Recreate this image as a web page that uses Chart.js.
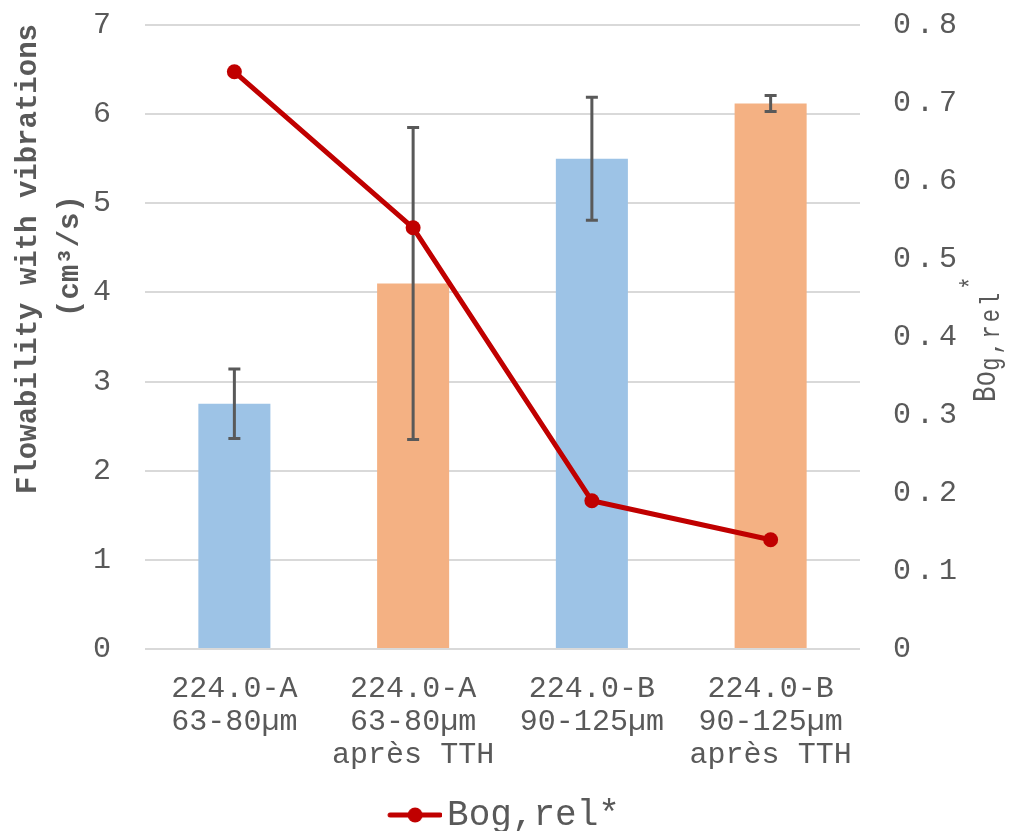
<!DOCTYPE html>
<html>
<head>
<meta charset="utf-8">
<title>Flowability with vibrations</title>
<script src="https://cdn.jsdelivr.net/npm/chart.js"></script>
<style>
  body { margin: 0; background: #fff; }
  #wrap { width: 1009px; height: 831px; position: relative; }
</style>
</head>
<body>
<div id="wrap"><canvas id="chart"></canvas></div>
<script>
var categories = [
    ['224.0-A', '63-80µm'],
    ['224.0-A', '63-80µm', 'après TTH'],
    ['224.0-B', '90-125µm'],
    ['224.0-B', '90-125µm', 'après TTH']
];
var flowability = [2.75, 4.1, 5.5, 6.12];
var flowabilityErr = [0.39, 1.75, 0.69, 0.09];
var bogRel = [0.74, 0.54, 0.19, 0.14];
var barColors = ['#9DC3E6', '#F4B183', '#9DC3E6', '#F4B183'];

var FONT = "'Liberation Mono', 'Courier New', monospace";
var GREY = '#595959';
var RED = '#C00000';
var NONE = 'rgba(0,0,0,0)';

// legend icon: line with a dot, shifted right so it sits close to the text
var legendIcon = document.createElement('canvas');
legendIcon.width = 66;
legendIcon.height = 18;
(function() {
    var c = legendIcon.getContext('2d');
    c.strokeStyle = RED;
    c.lineWidth = 5;
    c.lineCap = 'round';
    c.beginPath();
    c.moveTo(14, 9);
    c.lineTo(64, 9);
    c.stroke();
    c.fillStyle = RED;
    c.beginPath();
    c.arc(39, 9, 7.5, 0, Math.PI * 2);
    c.fill();
})();

var errorBars = {
    id: 'errorBars',
    afterDatasetDraw: function(chart, args) {
        if (args.meta.type !== 'bar') return;
        var ctx = chart.ctx, y = chart.scales.y;
        ctx.save();
        ctx.strokeStyle = GREY;
        ctx.lineWidth = 3;
        args.meta.data.forEach(function(bar, i) {
            var top = y.getPixelForValue(flowability[i] + flowabilityErr[i]);
            var bot = y.getPixelForValue(flowability[i] - flowabilityErr[i]);
            ctx.beginPath();
            ctx.moveTo(bar.x, top); ctx.lineTo(bar.x, bot);
            ctx.moveTo(bar.x - 6, top); ctx.lineTo(bar.x + 6, top);
            ctx.moveTo(bar.x - 6, bot); ctx.lineTo(bar.x + 6, bot);
            ctx.stroke();
        });
        ctx.restore();
    }
};

// right tick labels are drawn letter-spaced in the original
var spacedRightTicks = {
    id: 'spacedRightTicks',
    afterLayout: function(chart) {
        var s = chart.scales.y1;
        if (!s || s._spaced) return;
        var draw = s.drawLabels;
        s.drawLabels = function(area) {
            var ctx = this.ctx;
            ctx.save();
            ctx.letterSpacing = '5px';
            draw.call(this, area);
            ctx.restore();
        };
        s._spaced = true;
    }
};

var axisTitles = {
    id: 'axisTitles',
    afterDraw: function(chart) {
        var ctx = chart.ctx;
        ctx.save();
        ctx.fillStyle = GREY;
        ctx.textAlign = 'center';
        ctx.textBaseline = 'alphabetic';

        // left title, two lines
        ctx.font = 'bold 29px ' + FONT;
        ctx.save();
        ctx.translate(36, 259);
        ctx.rotate(-Math.PI / 2);
        ctx.fillText('Flowability with vibrations', 0, 0);
        ctx.restore();
        ctx.save();
        ctx.translate(78, 256);
        ctx.rotate(-Math.PI / 2);
        ctx.fillText('(cm³/s)', 0, 0);
        ctx.restore();

        // right title Bo_{g,rel}*, read bottom to top starting at y=402,
        // glyphs a bit taller than wide like in the original
        ctx.textAlign = 'left';
        ctx.translate(995, 402);
        ctx.rotate(-Math.PI / 2);
        ctx.scale(1, 1.25);
        ctx.font = '26px ' + FONT;
        ctx.fillText('Bo', 0, 0);
        var x = ctx.measureText('Bo').width;
        ctx.font = '22px ' + FONT;
        ctx.letterSpacing = '3px';
        ctx.fillText('g,rel', x, 3);
        x += ctx.measureText('g,rel').width;
        ctx.letterSpacing = '0px';
        ctx.fillText('*', x, -13);
        ctx.restore();
    }
};

var ctx = document.getElementById('chart').getContext('2d');
var chart = new Chart(ctx, {
    data: {
        labels: categories,
        datasets: [{
            type: 'bar',
            label: 'Flowability',
            data: flowability,
            backgroundColor: barColors,
            barPercentage: 0.403,
            categoryPercentage: 1.0,
            yAxisID: 'y',
            order: 1
        }, {
            type: 'line',
            label: 'Bog,rel*',
            data: bogRel,
            borderColor: RED,
            backgroundColor: RED,
            borderWidth: 5,
            pointRadius: 7.5,
            pointBorderWidth: 0,
            pointBackgroundColor: RED,
            yAxisID: 'y1',
            order: 0
        }]
    },
    options: {
        responsive: true,
        maintainAspectRatio: false,
        animation: false,
        layout: { padding: { top: 25, left: 0, right: 0, bottom: -12 } },
        plugins: {
            tooltip: { enabled: false },
            legend: {
                position: 'bottom',
                labels: {
                    usePointStyle: true,
                    pointStyleWidth: 40,
                    boxHeight: 18,
                    padding: 2,
                    color: GREY,
                    font: { family: FONT, size: 36 },
                    generateLabels: function(chart) {
                        var items = Chart.defaults.plugins.legend.labels.generateLabels(chart);
                        return items.filter(function(it) { return it.datasetIndex === 1; })
                            .map(function(it) { it.pointStyle = legendIcon; return it; });
                    }
                }
            }
        },
        scales: {
            x: {
                grid: { display: false, drawTicks: false },
                border: { display: false },
                ticks: {
                    color: GREY,
                    font: { family: FONT, size: 30, lineHeight: 1.1 },
                    padding: 24,
                    maxRotation: 0,
                    autoSkip: false
                },
                afterFit: function(s) { s.height = 146; }
            },
            y: {
                position: 'left',
                min: 0,
                max: 7,
                ticks: {
                    stepSize: 1,
                    color: GREY,
                    font: { family: FONT, size: 30 },
                    padding: 0
                },
                grid: { color: '#D9D9D9', lineWidth: 2, drawTicks: true, tickLength: 34, tickColor: NONE },
                border: { display: false },
                afterFit: function(s) { s.width = 145; }
            },
            y1: {
                position: 'right',
                min: 0,
                max: 0.8,
                ticks: {
                    stepSize: 0.1,
                    color: GREY,
                    font: { family: FONT, size: 30 },
                    padding: 0
                },
                grid: { color: NONE, drawOnChartArea: false, drawTicks: true, tickLength: 33, tickColor: NONE },
                border: { display: false },
                afterFit: function(s) { s.width = 149; }
            }
        }
    },
    plugins: [errorBars, spacedRightTicks, axisTitles]
});
</script>
</body>
</html>
